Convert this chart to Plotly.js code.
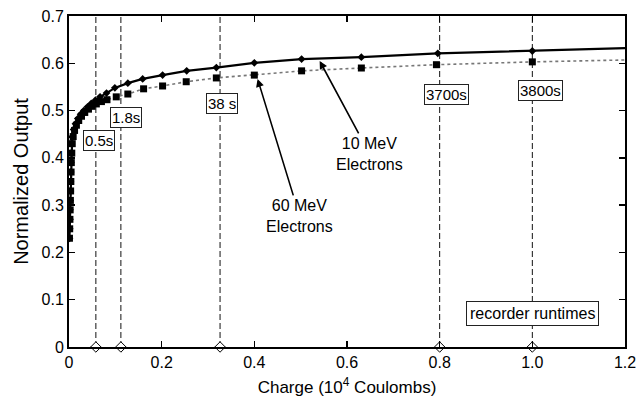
<!DOCTYPE html>
<html>
<head>
<meta charset="utf-8">
<script src="https://cdn.plot.ly/plotly-3.0.1.min.js"></script>
<style>html,body{margin:0;padding:0;background:#fff;}#chart{width:641px;height:398px;}</style>
</head>
<body>
<div id="chart"></div>
<script>
// 10 MeV electrons (diamonds)
const mev10X = [0.001,0.0015,0.002,0.002,0.0025,0.003,0.003,0.0035,0.004,0.0045,0.005,0.007,0.010,0.014,0.019,0.025,0.032,0.040,0.048,0.057,0.067,0.081,0.099,0.127,0.159,0.202,0.254,0.318,0.400,0.502,0.631,0.796,1.000,1.200];
const mev10Y = [0.230,0.250,0.270,0.290,0.310,0.330,0.350,0.370,0.390,0.410,0.430,0.445,0.460,0.472,0.483,0.492,0.500,0.508,0.515,0.522,0.529,0.537,0.548,0.558,0.567,0.575,0.584,0.591,0.601,0.609,0.613,0.621,0.626,0.632];
// 60 MeV electrons (squares)
const mev60X = [0.001,0.0015,0.002,0.0025,0.003,0.0035,0.004,0.0045,0.005,0.006,0.007,0.009,0.012,0.016,0.021,0.027,0.034,0.042,0.050,0.059,0.070,0.082,0.102,0.127,0.161,0.202,0.253,0.318,0.400,0.502,0.631,0.793,1.000,1.200];
const mev60Y = [0.230,0.250,0.270,0.290,0.310,0.330,0.350,0.370,0.390,0.410,0.430,0.445,0.458,0.469,0.479,0.488,0.496,0.503,0.509,0.514,0.519,0.523,0.529,0.535,0.546,0.552,0.561,0.569,0.575,0.584,0.590,0.597,0.603,0.607];
// recorder runtime markers
const runtimeX = [0.058,0.112,0.326,0.8,1.0];
const runtimeLabels = ["0.5s","1.8s","38 s","3700s","3800s"];
const runtimeLabelY = [0.436,0.485,0.514,0.533,0.542];
const runtimeLabelX = [0.064,0.124,0.331,0.815,1.018];
// axis ticks
const xTickVals = [0,0.2,0.4,0.6,0.8,1.0,1.2];
const xTickText = ["0","0.2","0.4","0.6","0.8","1.0","1.2"];
const yTickVals = [0,0.1,0.2,0.3,0.4,0.5,0.6,0.7];
const yTickText = ["0","0.1","0.2","0.3","0.4","0.5","0.6","0.7"];

const FONT = "Liberation Sans, Arial, Helvetica, sans-serif";
const traces = [];
runtimeX.forEach(v => {
  traces.push({x:[v,v], y:[0,0.7], mode:'lines', line:{color:'#111', width:1, dash:'6px,3px'}, hoverinfo:'skip', showlegend:false});
});
traces.push({x: mev60X, y: mev60Y, mode:'lines+markers', showlegend:false,
  line:{color:'#777', width:1.6, dash:'dot'},
  marker:{symbol:'square', size: mev60X.map(v => v >= 1.2 ? 0 : 7), color:'#000', opacity:1, line:{width:0}}});
traces.push({x: mev10X, y: mev10Y, mode:'lines+markers', showlegend:false,
  line:{color:'#000', width:2.2},
  marker:{symbol:'diamond', size: mev10X.map(v => v >= 1.2 ? 0 : 6), color:'#000', opacity:1, line:{width:0}}});
traces.push({x: runtimeX, y: runtimeX.map(() => 0), mode:'markers', showlegend:false, cliponaxis:false,
  marker:{symbol:'diamond', size:8, color:'#fff', opacity:1, line:{color:'#000', width:1}}});

const annotations = runtimeLabels.map((t,i) => ({
  x: runtimeLabelX[i], y: runtimeLabelY[i], xref:'x', yref:'y', text:t, showarrow:false,
  font:{family:FONT, size:15, color:'#000'}, bgcolor:'#fff', bordercolor:'#222', borderwidth:1, borderpad:1
}));
annotations.push({x:1.001, y:0.071, xref:'x', yref:'y', text:'recorder runtimes', showarrow:false,
  font:{family:FONT, size:16, color:'#000'}, bgcolor:'#fff', bordercolor:'#222', borderwidth:1, borderpad:3});
annotations.push({x:0.541, y:0.605, xref:'x', yref:'y', text:'10 MeV<br>Electrons', showarrow:true,
  ax:50, ay:93, arrowhead:2, arrowsize:1, arrowwidth:1.6, arrowcolor:'#000',
  font:{family:FONT, size:16, color:'#000'}});
annotations.push({x:0.407, y:0.567, xref:'x', yref:'y', text:'60 MeV<br>Electrons', showarrow:true,
  ax:42, ay:137, arrowhead:2, arrowsize:1, arrowwidth:1.6, arrowcolor:'#000',
  font:{family:FONT, size:16, color:'#000'}});

const layout = {
  width:641, height:398,
  margin:{l:69, r:16, t:16, b:51},
  paper_bgcolor:'#fff', plot_bgcolor:'#fff',
  font:{family:FONT, color:'#000'},
  xaxis:{range:[0,1.2], tickvals:xTickVals, ticktext:xTickText, showgrid:false, zeroline:false,
    showline:true, linecolor:'#000', linewidth:2, mirror:'ticks', ticks:'inside', ticklen:6, tickcolor:'#000', tickwidth:1.5,
    tickfont:{family:FONT, size:16, color:'#000'},
    title:{text:'Charge (10<sup>4</sup> Coulombs)', font:{family:FONT, size:17, color:'#000'}, standoff:11}},
  yaxis:{range:[0,0.7], tickvals:yTickVals, ticktext:yTickText, showgrid:false, zeroline:false,
    showline:true, linecolor:'#000', linewidth:2, mirror:'ticks', ticks:'inside', ticklen:6, tickcolor:'#000', tickwidth:1.5,
    tickfont:{family:FONT, size:16, color:'#000'},
    title:{text:'Normalized Output', font:{family:FONT, size:20, color:'#000'}, standoff:8}},
  annotations: annotations
};
Plotly.newPlot('chart', traces, layout, {staticPlot:true, displayModeBar:false});
</script>
</body>
</html>
